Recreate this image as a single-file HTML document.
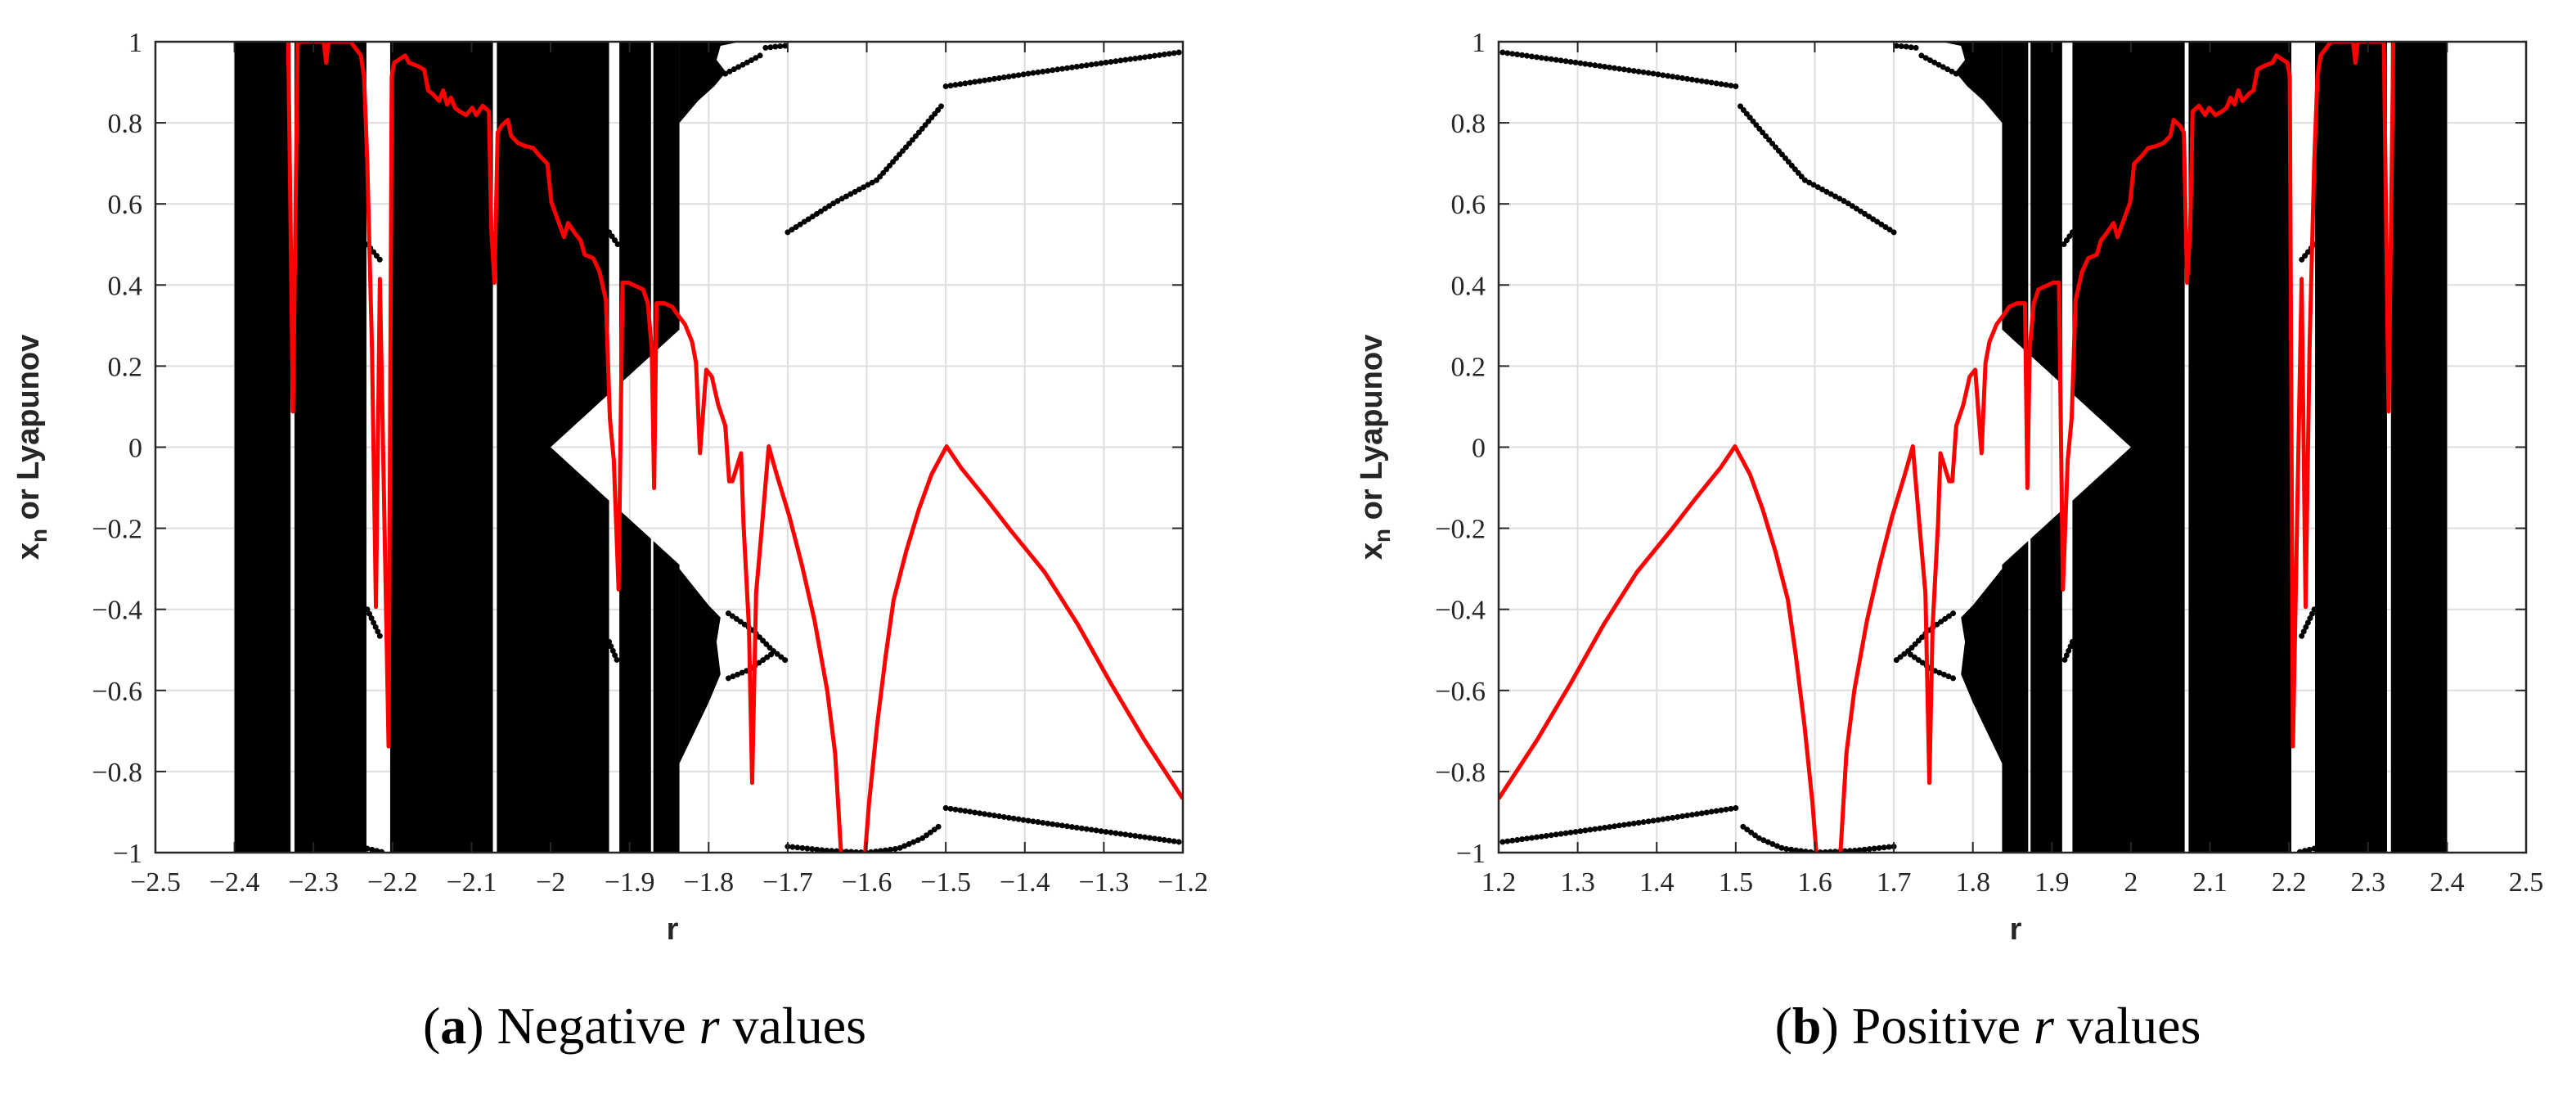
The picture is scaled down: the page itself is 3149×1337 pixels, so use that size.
<!DOCTYPE html>
<html><head><meta charset="utf-8"><style>
html,body{margin:0;padding:0;background:#fff}
svg{display:block}
.tk{font-family:"Liberation Serif",serif;font-size:34px;fill:#262626}
.lab{font-family:"Liberation Sans",sans-serif;font-weight:bold;font-size:38px;fill:#262626}
.cap{font-family:"Liberation Serif",serif;font-size:64px;fill:#000}
</style></head><body>
<svg id="fig" width="3149" height="1337" viewBox="0 0 3149 1337" xmlns="http://www.w3.org/2000/svg">
<defs>
<clipPath id="clipL"><rect x="190" y="51" width="1256" height="991"/></clipPath>
<clipPath id="clipR"><rect x="1832" y="51" width="1256" height="991"/></clipPath>
</defs>
<text class="cap" x="788" y="1275" text-anchor="middle">(<tspan font-weight="bold">a</tspan>) Negative <tspan font-style="italic">r</tspan> values</text>
<text class="cap" x="2430" y="1275" text-anchor="middle">(<tspan font-weight="bold">b</tspan>) Positive <tspan font-style="italic">r</tspan> values</text>
</svg>
<script>
// Lyapunov exponent (negative-r panel; positive panel is mirrored r -> -r)
const lyapR = [-2.4,-2.34,-2.332,-2.326,-2.320,-2.287,-2.284,-2.281,-2.253,-2.240,-2.236,-2.232,-2.226,-2.221,-2.216,-2.211,-2.205,-2.201,-2.198,-2.191,-2.184,-2.179,-2.168,-2.160,-2.155,-2.149,-2.145,-2.141,-2.136,-2.131,-2.126,-2.121,-2.115,-2.107,-2.099,-2.094,-2.086,-2.078,-2.075,-2.071,-2.067,-2.062,-2.054,-2.050,-2.041,-2.031,-2.022,-2.015,-2.004,-1.999,-1.991,-1.983,-1.978,-1.969,-1.962,-1.957,-1.946,-1.938,-1.930,-1.925,-1.920,-1.914,-1.909,-1.902,-1.893,-1.883,-1.877,-1.872,-1.869,-1.866,-1.856,-1.846,-1.840,-1.830,-1.821,-1.816,-1.811,-1.803,-1.796,-1.788,-1.779,-1.774,-1.770,-1.759,-1.756,-1.749,-1.745,-1.740,-1.733,-1.724,-1.714,-1.698,-1.682,-1.666,-1.650,-1.640,-1.631,-1.604,-1.597,-1.587,-1.576,-1.566,-1.550,-1.534,-1.518,-1.499,-1.481,-1.449,-1.418,-1.375,-1.333,-1.291,-1.249,-1.2];
const lyapV = [1.3,1.3,1.0,0.088,1.0,1.0,0.948,1.0,1.0,0.966,0.914,0.707,0.243,-0.394,0.415,-0.101,-0.738,0.914,0.948,0.957,0.966,0.948,0.940,0.931,0.880,0.871,0.862,0.854,0.880,0.845,0.862,0.837,0.828,0.819,0.837,0.819,0.842,0.828,0.535,0.406,0.776,0.793,0.807,0.768,0.750,0.742,0.738,0.721,0.699,0.604,0.561,0.518,0.553,0.527,0.510,0.475,0.466,0.432,0.363,0.071,-0.033,-0.351,0.406,0.406,0.398,0.389,0.355,0.243,-0.101,0.355,0.355,0.346,0.329,0.303,0.260,0.208,-0.015,0.191,0.174,0.105,0.053,-0.084,-0.084,-0.015,-0.187,-0.446,-0.828,-0.360,-0.205,0.002,-0.067,-0.170,-0.291,-0.428,-0.600,-0.755,-1.05,-1.05,-0.876,-0.687,-0.514,-0.377,-0.256,-0.153,-0.067,0.002,-0.050,-0.127,-0.205,-0.308,-0.437,-0.583,-0.721,-0.867];
// chaotic bands (r intervals)
const bandStart = [-2.400,-2.324,-2.203,-2.068,-1.913,-1.870];
const bandEnd   = [-2.329,-2.233,-2.073,-1.926,-1.873,-1.837];
// white diamond wedge tip and edge
const wedgeTipR = -2.0;
const wedgeEdgeR = -1.837;
const wedgeEdgeY = 0.29;
// extra black regions beyond -1.837
const topBlobR = [-1.837,-1.813,-1.793,-1.778,-1.790,-1.785,-1.760,-1.837];
const topBlobY = [0.80,0.855,0.89,0.925,0.955,0.99,1.0,1.0];
const botBlobR = [-1.837,-1.80,-1.785,-1.79,-1.785,-1.80,-1.837];
const botBlobY = [-0.30,-0.39,-0.42,-0.48,-0.56,-0.63,-0.78];
// periodic orbit branches
const upA_R=[-1.700,-1.640,-1.587,-1.534,-1.504]; const upA_Y=[0.53,0.604,0.659,0.776,0.845];
const loA_R=[-1.700,-1.650,-1.600,-1.560,-1.530,-1.505]; const loA_Y=[-0.985,-0.995,-1.0,-0.99,-0.965,-0.93];
const upB_R=[-1.500,-1.400,-1.300,-1.200]; const upB_Y=[0.89,0.92,0.948,0.975];
const loB_R=[-1.500,-1.400,-1.300,-1.200]; const loB_Y=[-0.89,-0.92,-0.948,-0.975];
const p2u_R=[-1.779,-1.755,-1.731]; const p2u_Y=[0.921,0.945,0.97];
const p2t_R=[-1.728,-1.715,-1.702]; const p2t_Y=[0.985,0.988,0.99];
const p2l_R=[-1.775,-1.745,-1.72,-1.70]; const p2l_Y=[-0.41,-0.45,-0.50,-0.53];
const p2m_R=[-1.775,-1.75,-1.72]; const p2m_Y=[-0.57,-0.55,-0.51];
const w1u_R=[-2.232,-2.215]; const w1u_Y=[0.50,0.46];
const w1l_R=[-2.232,-2.215]; const w1l_Y=[-0.40,-0.47];
const w1b_R=[-2.232,-2.21]; const w1b_Y=[-0.99,-1.0];
const w2u_R=[-1.926,-1.915]; const w2u_Y=[0.53,0.50];
const w2l_R=[-1.926,-1.915]; const w2l_Y=[-0.48,-0.53];
const yTicks=[1,0.8,0.6,0.4,0.2,0,-0.2,-0.4,-0.6,-0.8,-1];
const yTickLabels=["1","0.8","0.6","0.4","0.2","0","\u22120.2","\u22120.4","\u22120.6","\u22120.8","\u22121"];
const xTicksNeg=[-2.5,-2.4,-2.3,-2.2,-2.1,-2.0,-1.9,-1.8,-1.7,-1.6,-1.5,-1.4,-1.3,-1.2];

const NS="http://www.w3.org/2000/svg";
const svg=document.getElementById('fig');
function mk(tag,attrs,parent){const e=document.createElementNS(NS,tag);for(const k in attrs)e.setAttribute(k,attrs[k]);(parent||svg).appendChild(e);return e;}
function fmt(v){const s=(Math.abs(v)===2?"2":Math.abs(v).toFixed(1));return (v<0?"\u2212":"")+s;}

function panel(sgn,x0,clipId,tag){
  const W=1256,y0=51,H=991;
  const xs=r=>sgn<0 ? x0+(r+2.5)/1.3*W : x0+((-r)-1.2)/1.3*W;
  const ys=v=>y0+(1-v)/2*H;
  const g=mk('g',{'clip-path':'url(#'+clipId+')'});
  
  
  xTicksNeg.forEach(v=>{const l=mk('line',{x1:xs(v),x2:xs(v),y1:y0,y2:y0+H,stroke:'#dedede','stroke-width':2},g);
    });
  yTicks.forEach(v=>{const l=mk('line',{x1:x0,x2:x0+W,y1:ys(v),y2:ys(v),stroke:'#dedede','stroke-width':2},g);
    });
  const wedge=r=>wedgeEdgeY*(r-wedgeTipR)/(wedgeEdgeR-wedgeTipR);
  for(let i=0;i<bandStart.length;i++){
    const a=bandStart[i],b=bandEnd[i];
    if(b<=wedgeTipR){
      const p=mk('rect',{x:Math.min(xs(a),xs(b)),y:ys(1),width:Math.abs(xs(b)-xs(a)),height:ys(-1)-ys(1),fill:'#000'},g);
      
    } else {
      const s=Math.max(a,wedgeTipR);
      const top=[],bot=[];
      for(let k=0;k<=10;k++){const r=s+(b-s)*k/10;top.push([r,wedge(r)]);bot.push([r,-wedge(r)]);}
      const tp=[[a,1]].concat(a<wedgeTipR?[[a,0]]:[]).concat(top).concat([[b,1]]);
      const bp=[[a,-1]].concat(a<wedgeTipR?[[a,0]]:[]).concat(bot).concat([[b,-1]]);
      [tp,bp].forEach(P=>{const p=mk('polygon',{points:P.map(q=>xs(q[0])+','+ys(q[1])).join(' '),fill:'#000'},g);
        });
    }
  }
  [[topBlobR,topBlobY,'top-chaos-region'],[botBlobR,botBlobY,'bottom-chaos-region']].forEach(([R,Y,n])=>{
    const p=mk('polygon',{points:R.map((r,i)=>xs(r)+','+ys(Y[i])).join(' '),fill:'#000'},g);
    
  });
  const branches=[[upA_R,upA_Y],[loA_R,loA_Y],[upB_R,upB_Y],[loB_R,loB_Y],[p2u_R,p2u_Y],[p2t_R,p2t_Y],[p2l_R,p2l_Y],[p2m_R,p2m_Y],[w1u_R,w1u_Y],[w1l_R,w1l_Y],[w1b_R,w1b_Y],[w2u_R,w2u_Y],[w2l_R,w2l_Y]];
  branches.forEach(([R,Y])=>{
    const p=mk('polyline',{points:R.map((r,i)=>xs(r)+','+ys(Y[i])).join(' '),fill:'none',stroke:'#000','stroke-width':7,'stroke-linecap':'round','stroke-dasharray':'0 6'},g);
    
  });
  const red=mk('polyline',{points:lyapR.map((r,i)=>xs(r)+','+ys(lyapV[i])).join(' '),fill:'none',stroke:'#ff0000','stroke-width':5,'stroke-linejoin':'round'},g);
  
  const box=mk('rect',{x:x0,y:y0,width:W,height:H,fill:'none',stroke:'#262626','stroke-width':2.5});
  
  xTicksNeg.forEach(v=>{const X=xs(v);
    mk('line',{x1:X,x2:X,y1:y0+H,y2:y0+H-13,stroke:'#262626','stroke-width':2});
    mk('line',{x1:X,x2:X,y1:y0,y2:y0+13,stroke:'#262626','stroke-width':2});
    const t=mk('text',{x:X,y:1089,'text-anchor':'middle',class:'tk'});t.textContent=fmt(sgn<0?v:-v);
    });
  yTicks.forEach((v,i)=>{const Y=ys(v);
    mk('line',{x1:x0,x2:x0+13,y1:Y,y2:Y,stroke:'#262626','stroke-width':2});
    mk('line',{x1:x0+W,x2:x0+W-13,y1:Y,y2:Y,stroke:'#262626','stroke-width':2});
    const t=mk('text',{x:x0-16,y:Y+12,'text-anchor':'end',class:'tk'});t.textContent=yTickLabels[i];
    });
  const xl=mk('text',{x:x0+W/2+4,y:1148,'text-anchor':'middle',class:'lab'});xl.textContent='r';
  
  const cx=x0-143,cy=y0+H/2;
  const yl=mk('text',{x:cx,y:cy,'text-anchor':'middle',class:'lab',transform:'rotate(-90 '+cx+' '+cy+')'});
  yl.innerHTML='x<tspan font-size="28" dy="10">n</tspan><tspan dy="-10"> or Lyapunov</tspan>';
  
}
panel(-1,190,'clipL','left');
panel(1,1832,'clipR','right');
</script>
</body></html>
